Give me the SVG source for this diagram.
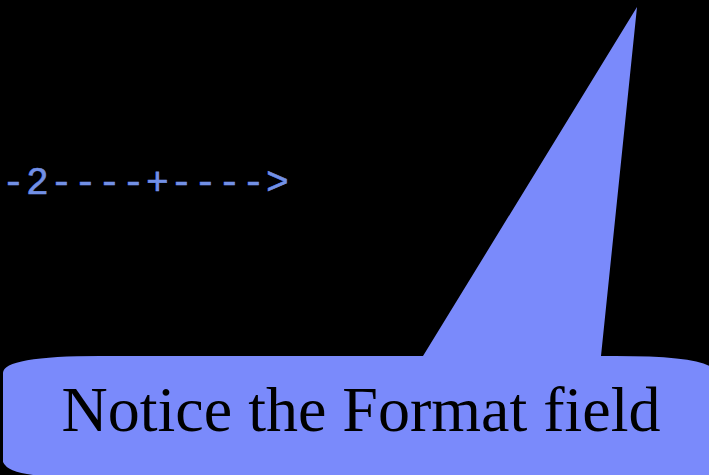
<svg xmlns="http://www.w3.org/2000/svg" width="709" height="475" viewBox="0 0 709 475">
<style>
.mono{font-family:"Liberation Mono","DejaVu Sans Mono",monospace;font-size:38px;fill:#7290e6;letter-spacing:1.2px;stroke:#7290e6;stroke-width:0.6px}
.callout{fill:#7a8afb}
.label{font-family:"Liberation Serif","Times New Roman",serif;font-size:64px;fill:#000}
</style>
<rect x="0" y="0" width="709" height="475" fill="#000"/>
<g id="scale">
<text class="mono" x="2" y="194">-2----+----&gt;</text>
</g>
<g id="callout">
<path class="callout" d="M3,373 Q3,356 100,356 L423,356 L637,7 L601,356 L615,356 Q715,356 715,373 L715,480 L3,480 Z"/>
<path d="M3,440 L3,462 Q8,474 45,476 L3,476 Z" fill="#000"/>
<text class="label" x="361" y="431" text-anchor="middle">Notice the Format field</text>
</g>
</svg>
